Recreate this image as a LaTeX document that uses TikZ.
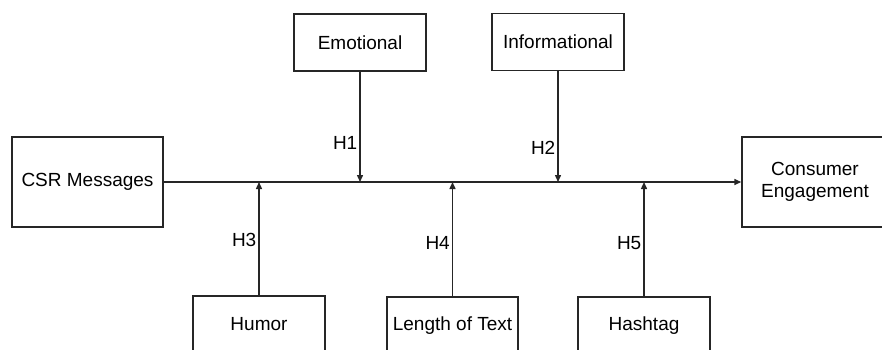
\documentclass[tikz,border=0pt]{standalone}
\usepackage{fontspec}
\setmainfont{Liberation Sans}
\usetikzlibrary{arrows.meta}
\begin{document}
\begin{tikzpicture}[x=1pt,y=-1pt,
  box/.style={draw=black!85, line width=1.4pt, minimum width=132pt, minimum height=57pt, inner sep=0pt,
    font=\fontsize{19}{22}\selectfont, align=center},
  bigbox/.style={box, minimum width=151pt, minimum height=90pt},
  arr/.style={draw=black!85, line width=1.4pt, -{Triangle[length=7pt,width=6pt]}},
  hlab/.style={font=\fontsize{19}{22}\selectfont, left, inner sep=2pt}]
\useasboundingbox (0,0) rectangle (882,349);
\clip (0,0) rectangle (882,349);
\node[bigbox] (csr) at (87.5,182) {CSR Messages};
\node[bigbox, minimum width=146pt] (ce) at (815,182) {Consumer\\Engagement};
\node[box] (emo) at (360,42.5) {Emotional};
\node[box] (inf) at (558,42) {Informational};
\node[box] (hum) at (259,324.5) {Humor};
\node[box, minimum width=131pt] (len) at (452.5,325.5) {Length of Text};
\node[box] (hash) at (644,325.5) {Hashtag};
\draw[arr] (csr.east) -- (ce.west);
\draw[arr] (emo.south) -- node[hlab, pos=0.65] {H1} (emo.south |- csr.east);
\draw[arr] (inf.south) -- node[hlab, pos=0.69] {H2} (inf.south |- csr.east);
\draw[arr] (hum.north) -- node[hlab, pos=0.49] {H3} (hum.north |- csr.east);
\draw[arr] (len.north) -- node[hlab, pos=0.47] {H4} (len.north |- csr.east);
\draw[arr] (hash.north) -- node[hlab, pos=0.47] {H5} (hash.north |- csr.east);
\end{tikzpicture}
\end{document}
